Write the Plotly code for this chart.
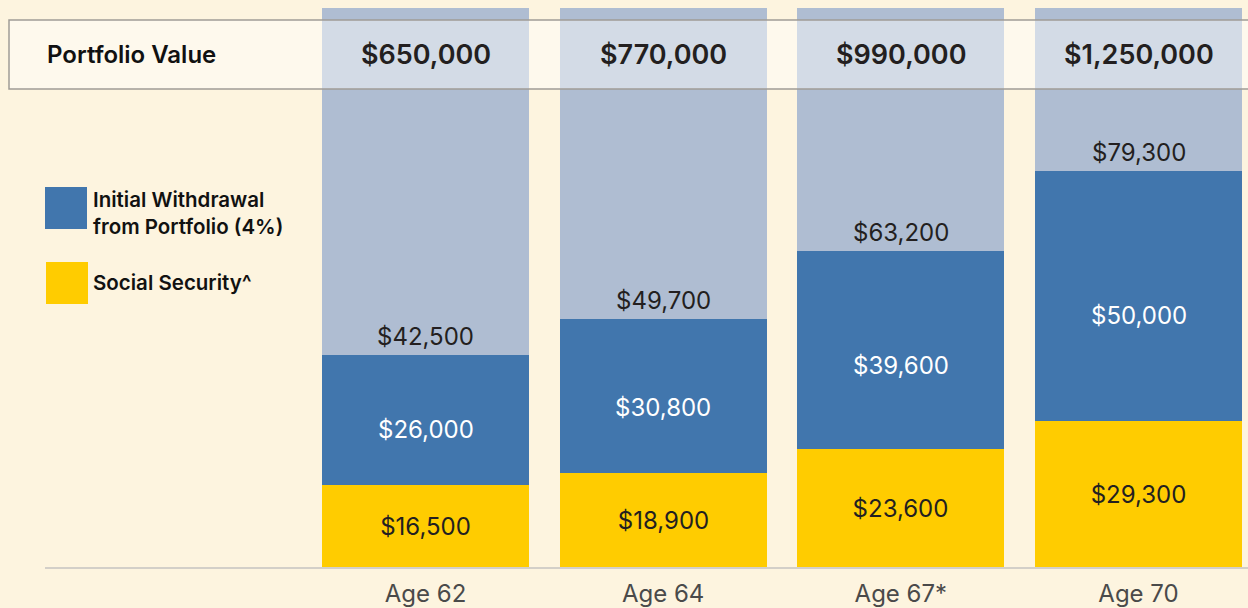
import plotly.graph_objects as go

# ---- data ----
ages = ["Age 62", "Age 64", "Age 67*", "Age 70"]
portfolio_values = ["$650,000", "$770,000", "$990,000", "$1,250,000"]
social_security = [16500, 18900, 23600, 29300]
withdrawal = [26000, 30800, 39600, 50000]
totals = [42500, 49700, 63200, 79300]
column_top = 111800

BG = "#FDF4DF"
LIGHT = "#AFBDD2"
BLUE = "#4176AD"
YELLOW = "#FFCC00"
FONT = "Inter"

x = list(range(len(ages)))
fmt = lambda v: "${:,.0f}".format(v)

fig = go.Figure()
# background columns
fig.add_trace(go.Bar(x=x, y=[column_top] * len(x), base=0, width=0.871,
                     marker=dict(color=LIGHT, line=dict(width=0)),
                     hoverinfo="skip", showlegend=False))
# social security
fig.add_trace(go.Bar(x=x, y=social_security, base=0, width=0.871,
                     marker=dict(color=YELLOW, line=dict(width=0)),
                     text=[fmt(v) for v in social_security], textposition="inside",
                     insidetextanchor="middle", textangle=0, constraintext="none",
                     textfont=dict(family=FONT, size=24, color="#231F20"),
                     hoverinfo="skip", showlegend=False))
# withdrawal
fig.add_trace(go.Bar(x=x, y=withdrawal, base=social_security, width=0.871,
                     marker=dict(color=BLUE, line=dict(width=0)),
                     hoverinfo="skip", showlegend=False))

annotations = []
for i, (s, w) in enumerate(zip(social_security, withdrawal)):
    annotations.append(dict(x=i, y=s + 0.42 * w, xref="x", yref="y", text=fmt(w),
                            showarrow=False, yanchor="middle",
                            font=dict(family=FONT, size=24, color="#FFFFFF")))
for i, t in enumerate(totals):
    annotations.append(dict(x=i, y=t, xref="x", yref="y", text=fmt(t), showarrow=False,
                            yanchor="bottom", yshift=2,
                            font=dict(family=FONT, size=24, color="#231F20")))
for i, pv in enumerate(portfolio_values):
    annotations.append(dict(x=i, y=(567 - 54.5) / 567, xref="x", yref="paper", text=pv,
                            showarrow=False, yanchor="middle",
                            font=dict(family=FONT, size=27, color="#231F20", weight=600)))
annotations.append(dict(x=0, y=(567 - 54.5) / 567, xref="paper", yref="paper",
                        text="Portfolio Value", showarrow=False, xanchor="left", yanchor="middle",
                        font=dict(family=FONT, size=24, color="#111111", weight=600)))
annotations.append(dict(x=(91 - 45) / 1203, y=(567 - 213) / 567, xref="paper", yref="paper",
                        text="Initial Withdrawal<br>from Portfolio (4%)", showarrow=False,
                        xanchor="left", yanchor="middle", align="left",
                        font=dict(family=FONT, size=20.5, color="#111111", weight=600)))
annotations.append(dict(x=(91 - 45) / 1203, y=(567 - 282) / 567, xref="paper", yref="paper",
                        text="Social Security^", showarrow=False,
                        xanchor="left", yanchor="middle", align="left",
                        font=dict(family=FONT, size=20.5, color="#111111", weight=600)))

shapes = [
    # banner
    dict(type="rect", xref="paper", yref="paper", x0=(9 - 45) / 1203, x1=1.02,
         y0=(567 - 89) / 567, y1=(567 - 20) / 567, layer="above",
         fillcolor="rgba(255,255,255,0.45)", line=dict(color="#A09C96", width=1.5)),
    # legend swatches
    dict(type="rect", xref="paper", yref="paper", x0=0, x1=42 / 1203,
         y0=(567 - 229) / 567, y1=(567 - 187) / 567, fillcolor=BLUE, line=dict(width=0)),
    dict(type="rect", xref="paper", yref="paper", x0=1 / 1203, x1=43 / 1203,
         y0=(567 - 304) / 567, y1=(567 - 262) / 567, fillcolor=YELLOW, line=dict(width=0)),
]

fig.update_layout(
    width=1248, height=608,
    margin=dict(l=45, r=0, t=0, b=41),
    paper_bgcolor=BG, plot_bgcolor=BG,
    barmode="overlay", bargap=0,
    annotations=annotations, shapes=shapes,
    xaxis=dict(range=[-1.601, 3.4607], tickvals=x, ticktext=ages, showgrid=False,
               zeroline=False, showline=True, linecolor="#D3CFC8", linewidth=2,
               ticks="", ticklabelstandoff=4,
               tickfont=dict(family=FONT, size=24, color="#4A4A4A"), fixedrange=True),
    yaxis=dict(range=[0, 113400], visible=False, showgrid=False, zeroline=False, fixedrange=True),
    font=dict(family=FONT),
)

fig.write_html("out.html", config={"displayModeBar": False},
               post_script="document.body.style.margin='0';")
